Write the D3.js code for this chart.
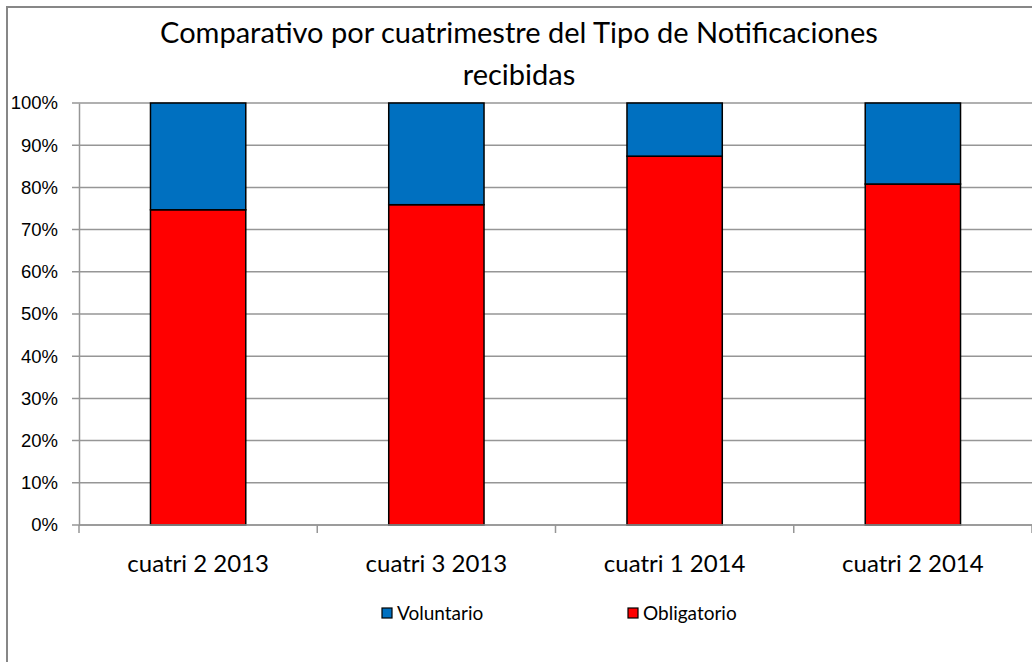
<!DOCTYPE html>
<html>
<head>
<meta charset="utf-8">
<script src="https://cdn.jsdelivr.net/npm/d3@7"></script>
<style>
  body { margin: 0; background: #fff; }
  svg { display: block; font-family: Lato, "Open Sans", sans-serif; }
</style>
</head>
<body>
<div id="chart"></div>
<script>
// data
const categories = ['cuatri 2 2013', 'cuatri 3 2013', 'cuatri 1 2014', 'cuatri 2 2014'];
const obligatorio = [74.7, 75.9, 87.4, 80.8];
const voluntario = [25.3, 24.1, 12.6, 19.2];
const yTicks = [0, 10, 20, 30, 40, 50, 60, 70, 80, 90, 100];
const seriesNames = ['Voluntario', 'Obligatorio'];
const seriesColors = { Obligatorio: '#ff0000', Voluntario: '#0070c0' };

const width = 1032, height = 662;
const margin = { top: 103, right: 0, bottom: 137, left: 79 };

const svg = d3.select('#chart').append('svg')
  .attr('width', width)
  .attr('height', height);

// outer frame (only top and left visible)
svg.append('rect')
  .attr('x', 7).attr('y', 7)
  .attr('width', width + 20).attr('height', height + 20)
  .attr('fill', 'none')
  .attr('stroke', '#878787')
  .attr('stroke-width', 2);

const x = d3.scaleBand()
  .domain(categories)
  .range([margin.left, width - margin.right])
  .paddingInner(0.6)
  .paddingOuter(0.3);

const y = d3.scaleLinear()
  .domain([0, 100])
  .range([height - margin.bottom, margin.top]);

// gridlines
svg.append('g')
  .selectAll('line')
  .data(yTicks)
  .enter()
  .append('line')
  .attr('x1', margin.left - 7)
  .attr('x2', width)
  .attr('y1', d => y(d))
  .attr('y2', d => y(d))
  .attr('stroke', '#969696')
  .attr('stroke-width', 1.5);

// y axis
const yAxis = svg.append('g')
  .attr('transform', `translate(${margin.left},0)`)
  .call(d3.axisLeft(y).tickValues(yTicks).tickFormat(d => d + '%').tickSize(0).tickPadding(21));
yAxis.select('.domain').attr('stroke', '#969696').attr('stroke-width', 1.5);
yAxis.selectAll('text').style('font-size', '18.5px').attr('fill', '#000');

// stacked data
const stackData = categories.map((c, i) => ({ cat: c, Obligatorio: obligatorio[i], Voluntario: voluntario[i] }));
const stack = d3.stack().keys(['Obligatorio', 'Voluntario']);
const layers = stack(stackData);

svg.append('g')
  .selectAll('g')
  .data(layers)
  .enter()
  .append('g')
  .attr('fill', d => seriesColors[d.key])
  .selectAll('rect')
  .data(d => d)
  .enter()
  .append('rect')
  .attr('x', d => x(d.data.cat))
  .attr('width', x.bandwidth())
  .attr('y', d => y(d[1]))
  .attr('height', d => y(d[0]) - y(d[1]))
  .attr('stroke', '#000')
  .attr('stroke-width', 1.5);

// x axis
const step = (width - margin.left - margin.right) / categories.length;
const xAxisG = svg.append('g');
xAxisG.append('line')
  .attr('x1', margin.left).attr('x2', width)
  .attr('y1', y(0)).attr('y2', y(0))
  .attr('stroke', '#969696').attr('stroke-width', 1.5);
xAxisG.selectAll('.tick')
  .data(d3.range(categories.length + 1))
  .enter()
  .append('line')
  .attr('x1', i => margin.left + i * step)
  .attr('x2', i => margin.left + i * step)
  .attr('y1', y(0))
  .attr('y2', y(0) + 8)
  .attr('stroke', '#969696').attr('stroke-width', 1.5);
xAxisG.selectAll('text')
  .data(categories)
  .enter()
  .append('text')
  .attr('x', d => x(d) + x.bandwidth() / 2)
  .attr('y', 572)
  .attr('text-anchor', 'middle')
  .style('font-size', '24px')
  .text(d => d);

// title
const title = svg.append('text')
  .attr('text-anchor', 'middle')
  .style('font-size', '29px');
title.append('tspan').attr('x', 519).attr('y', 43).text('Comparativo por cuatrimestre del Tipo de Notificaciones');
title.append('tspan').attr('x', 519).attr('y', 85).text('recibidas');

// legend
const legendX = [382, 628];
const legend = svg.append('g')
  .selectAll('g')
  .data(seriesNames)
  .enter()
  .append('g')
  .attr('transform', (d, i) => `translate(${legendX[i]},608)`);
legend.append('rect')
  .attr('width', 10).attr('height', 10)
  .attr('fill', d => seriesColors[d])
  .attr('stroke', '#000').attr('stroke-width', 1.2);
legend.append('text')
  .attr('x', 15).attr('y', 12)
  .style('font-size', '19px')
  .text(d => d);
</script>
</body>
</html>
